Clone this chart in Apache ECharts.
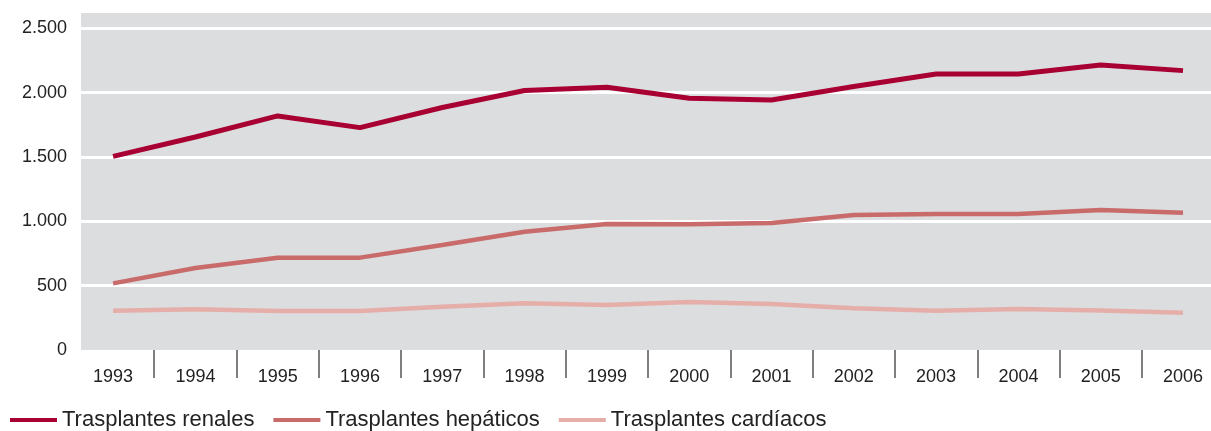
<!DOCTYPE html>
<html>
<head>
<meta charset="utf-8">
<script src="https://cdn.jsdelivr.net/npm/echarts@6/dist/echarts.min.js"></script>
<style>
  html, body { margin: 0; padding: 0; background: #ffffff; }
  #chart { width: 1211px; height: 431px; }
</style>
</head>
<body>
<div id="chart"></div>
<script>
const years = [1993, 1994, 1995, 1996, 1997, 1998, 1999, 2000, 2001, 2002, 2003, 2004, 2005, 2006];
const renales = [1505, 1656, 1820, 1729, 1885, 2017, 2043, 1957, 1944, 2048, 2146, 2146, 2216, 2172];
const hepaticos = [518, 638, 718, 718, 816, 920, 980, 977, 987, 1050, 1057, 1057, 1089, 1068];
const cardiacos = [306, 316, 303, 303, 337, 363, 350, 373, 358, 324, 306, 319, 307, 290];
const seriesNames = ['Trasplantes renales', 'Trasplantes hepáticos', 'Trasplantes cardíacos'];
const yTicks = [0, 500, 1000, 1500, 2000, 2500];

const tickSeparators = years.slice(0, -1).map(y => y + 0.5);
const pairs = arr => years.map((y, i) => [y, arr[i]]);
const fmt = v => String(v).replace(/\B(?=(\d{3})+(?!\d))/g, '.');

const FONT = '"Liberation Sans", Arial, Helvetica, sans-serif';
const chart = echarts.init(document.getElementById('chart'), null, { renderer: 'canvas' });

chart.setOption({
  animation: false,
  backgroundColor: '#ffffff',
  textStyle: { fontFamily: FONT },
  grid: {
    left: 81, right: 0, top: 13, bottom: 81,
    show: true, backgroundColor: '#dcdddf', borderWidth: 0
  },
  legend: {
    left: 10, top: 409, padding: 0,
    itemWidth: 47, itemHeight: 4, itemGap: 19,
    icon: 'rect',
    textStyle: { fontSize: 22, color: '#222', fontFamily: FONT },
    data: seriesNames
  },
  xAxis: {
    type: 'value',
    min: 1992.61, max: 2006.34,
    offset: 7,
    axisLine: { show: false },
    splitLine: { show: false },
    axisTick: {
      show: true, length: 28,
      customValues: tickSeparators,
      lineStyle: { color: '#555', width: 1.5 }
    },
    axisLabel: {
      customValues: years,
      margin: 11,
      fontSize: 18, color: '#222', fontFamily: FONT,
      formatter: v => String(v)
    }
  },
  yAxis: {
    type: 'value',
    min: 0, max: 2620,
    axisLine: { show: false },
    axisTick: { show: false, customValues: yTicks },
    splitLine: {
      show: true,
      lineStyle: { color: ['rgba(0,0,0,0)', '#fff', '#fff', '#fff', '#fff', '#fff', 'rgba(0,0,0,0)'], width: 3 }
    },
    axisLabel: {
      customValues: yTicks,
      margin: 14,
      fontSize: 18, color: '#222', fontFamily: FONT,
      formatter: v => fmt(v)
    }
  },
  series: [
    { name: seriesNames[0], type: 'line', data: pairs(renales), symbol: 'none',
      lineStyle: { color: '#a90034', width: 5 }, itemStyle: { color: '#a90034' } },
    { name: seriesNames[1], type: 'line', data: pairs(hepaticos), symbol: 'none',
      lineStyle: { color: '#c96b6b', width: 4.5 }, itemStyle: { color: '#c96b6b' } },
    { name: seriesNames[2], type: 'line', data: pairs(cardiacos), symbol: 'none',
      lineStyle: { color: '#e6aea8', width: 4.5 }, itemStyle: { color: '#e6aea8' } }
  ]
});
</script>
</body>
</html>
